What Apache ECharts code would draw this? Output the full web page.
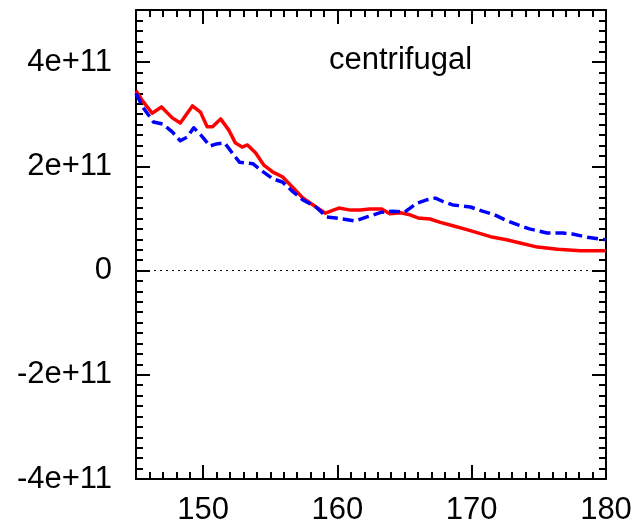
<!DOCTYPE html>
<html>
<head>
<meta charset="utf-8">
<script src="https://cdn.jsdelivr.net/npm/echarts@6/dist/echarts.min.js"></script>
<style>
  html, body { margin: 0; padding: 0; background: #fff; }
  #chart { width: 642px; height: 526px; }
</style>
</head>
<body>
<div id="chart"></div>
<script>
// Solid red curve
const redX = [145, 145.5, 146.2, 146.9, 147.7, 148.3, 149.2, 149.8, 150.3, 150.7, 151.3, 151.9, 152.4, 152.9, 153.3, 153.9, 154.5, 155.2, 155.9, 156.7, 157.4, 158.4, 159.1, 160.1, 161.0, 161.7, 162.4, 163.3, 163.9, 164.7, 165.4, 166.0, 166.9, 167.6, 168.6, 169.7, 171.4, 172.6, 173.6, 174.9, 176.4, 178.1, 180];
const redY = [3.45e11, 3.25e11, 3.02e11, 3.14e11, 2.93e11, 2.83e11, 3.16e11, 3.04e11, 2.76e11, 2.76e11, 2.91e11, 2.70e11, 2.45e11, 2.37e11, 2.41e11, 2.26e11, 2.03e11, 1.89e11, 1.80e11, 1.59e11, 1.40e11, 1.22e11, 1.10e11, 1.20e11, 1.16e11, 1.16e11, 1.18e11, 1.18e11, 1.09e11, 1.11e11, 1.07e11, 1.01e11, 0.99e11, 0.93e11, 0.86e11, 0.78e11, 0.65e11, 0.59e11, 0.53e11, 0.45e11, 0.41e11, 0.38e11, 0.38e11];

// Dashed blue curve
const blueX = [145, 145.5, 146.3, 147.0, 147.7, 148.3, 148.8, 149.3, 149.9, 150.5, 151.0, 151.6, 152.1, 152.7, 153.7, 154.5, 155.2, 155.9, 156.7, 157.4, 158.4, 159.2, 160.4, 161.3, 162.2, 163.3, 164.1, 165.0, 165.9, 166.7, 167.3, 167.9, 168.6, 169.9, 170.8, 171.7, 172.5, 173.4, 174.3, 175.6, 176.8, 177.5, 178.6, 180];
const blueY = [3.40e11, 3.14e11, 2.85e11, 2.81e11, 2.66e11, 2.49e11, 2.56e11, 2.74e11, 2.58e11, 2.39e11, 2.43e11, 2.45e11, 2.28e11, 2.08e11, 2.05e11, 1.89e11, 1.76e11, 1.70e11, 1.51e11, 1.36e11, 1.22e11, 1.03e11, 0.99e11, 0.95e11, 1.03e11, 1.12e11, 1.14e11, 1.12e11, 1.29e11, 1.36e11, 1.39e11, 1.32e11, 1.26e11, 1.22e11, 1.14e11, 1.07e11, 0.97e11, 0.88e11, 0.80e11, 0.72e11, 0.72e11, 0.70e11, 0.64e11, 0.59e11];

// Axis ranges and tick labels
const xRange = [145, 180];
const yRange = [-4e11, 5e11];
const xTickValues = [150, 160, 170, 180];
const xTickLabels = ['150', '160', '170', '180'];
const yTickValues = [-4e11, -2e11, 0, 2e11, 4e11];
const yTickLabels = ['-4e+11', '-2e+11', '0', '2e+11', '4e+11'];
const xMinorStep = 1;
const yMinorStep = 2e10;
const titleText = 'centrifugal';

const FONT = 'Liberation Sans, Arial, sans-serif';
const FONT_SIZE = 31;
const zip = (xs, ys) => xs.map((x, i) => [x, ys[i]]);
const labelFor = (vals, labels) => (v) => {
  const i = vals.findIndex(t => Math.abs(t - v) < 1e-6 * Math.max(1, Math.abs(t)));
  return i >= 0 ? labels[i] : '';
};

function majorX(pos, showLabel) {
  return {
    type: 'value', position: pos, min: xRange[0], max: xRange[1],
    axisLine: { show: true, onZero: false, lineStyle: { color: '#000', width: 2 } },
    axisTick: { show: true, inside: true, length: 14, customValues: xTickValues, lineStyle: { color: '#000', width: 2 } },
    axisLabel: { show: showLabel, customValues: xTickValues, formatter: labelFor(xTickValues, xTickLabels),
      margin: 16, color: '#000', fontSize: FONT_SIZE, fontFamily: FONT },
    splitLine: { show: false }
  };
}
function minorX(pos) {
  return {
    type: 'value', position: pos, min: xRange[0], max: xRange[1], interval: xMinorStep,
    axisLine: { show: false, onZero: false },
    axisTick: { show: true, inside: true, length: 7, lineStyle: { color: '#000', width: 2 } },
    axisLabel: { show: false }, splitLine: { show: false }
  };
}
function majorY(pos, showLabel) {
  return {
    type: 'value', position: pos, min: yRange[0], max: yRange[1],
    axisLine: { show: true, onZero: false, lineStyle: { color: '#000', width: 2 } },
    axisTick: { show: true, inside: true, length: 14, customValues: yTickValues, lineStyle: { color: '#000', width: 2 } },
    axisLabel: { show: showLabel, customValues: yTickValues, formatter: labelFor(yTickValues, yTickLabels),
      margin: 24, color: '#000', fontSize: FONT_SIZE, fontFamily: FONT },
    splitLine: { show: false }
  };
}
function minorY(pos) {
  return {
    type: 'value', position: pos, min: yRange[0], max: yRange[1], interval: yMinorStep,
    axisLine: { show: false, onZero: false },
    axisTick: { show: true, inside: true, length: 7, lineStyle: { color: '#000', width: 2 } },
    axisLabel: { show: false }, splitLine: { show: false }
  };
}

const chart = echarts.init(document.getElementById('chart'), null, { renderer: 'canvas' });
chart.setOption({
  animation: false,
  backgroundColor: '#fff',
  title: {
    text: titleText, left: 324, top: 40,
    textStyle: { color: '#000', fontSize: FONT_SIZE, fontWeight: 'normal', fontFamily: FONT }
  },
  grid: { left: 136, right: 36, top: 10, bottom: 47, containLabel: false },
  xAxis: [majorX('bottom', true), minorX('bottom'), majorX('top', false), minorX('top')],
  yAxis: [majorY('left', true), minorY('left'), majorY('right', false), minorY('right')],
  series: [
    {
      type: 'line', xAxisIndex: 0, yAxisIndex: 0, symbol: 'none', silent: true,
      data: zip(xRange, [0, 0]),
      lineStyle: { color: '#000', width: 1, type: [2, 4] }
    },
    {
      type: 'line', xAxisIndex: 0, yAxisIndex: 0, symbol: 'none',
      data: zip(redX, redY),
      lineStyle: { color: '#ff0000', width: 3.5, join: 'round' }
    },
    {
      type: 'line', xAxisIndex: 0, yAxisIndex: 0, symbol: 'none',
      data: zip(blueX, blueY),
      lineStyle: { color: '#0000ff', width: 3.5, type: [11, 5], join: 'round' }
    }
  ]
});
</script>
</body>
</html>
